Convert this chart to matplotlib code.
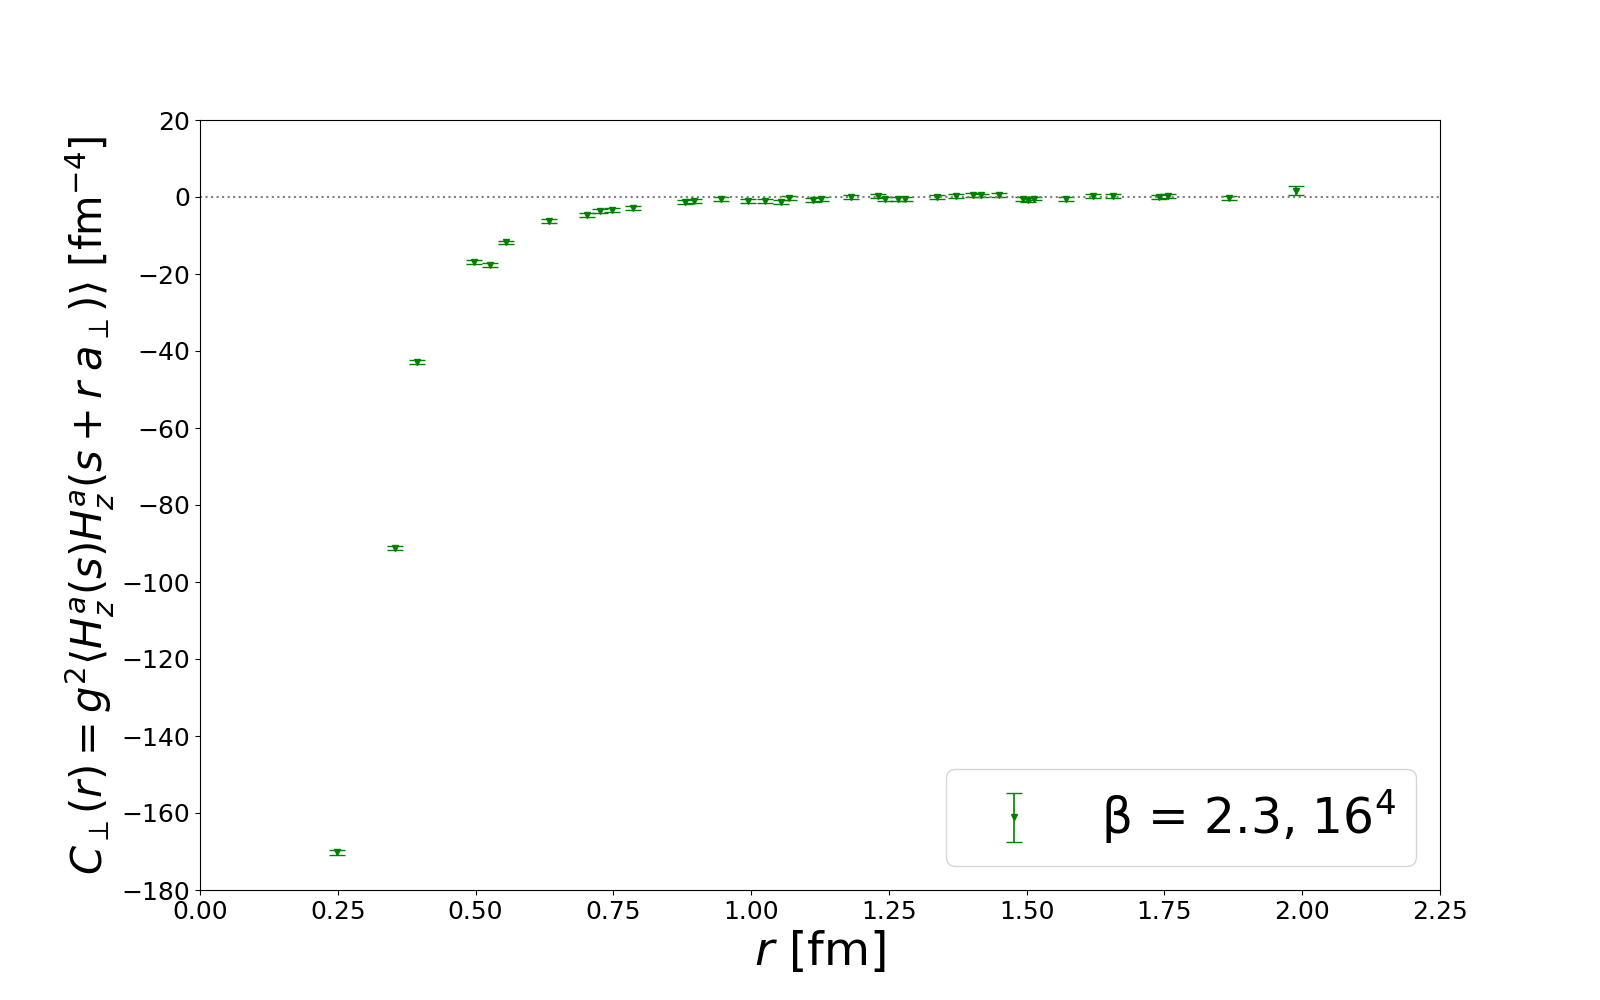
import numpy as np
import matplotlib
matplotlib.use("Agg")
import matplotlib.pyplot as plt

# transverse correlator, beta = 2.3, 16^4 lattice
r_fm = [0.249, 0.353, 0.394, 0.497, 0.527, 0.556, 0.634, 0.703, 0.725, 0.747,
        0.786, 0.880, 0.897, 0.946, 0.995, 1.026, 1.055, 1.069, 1.113, 1.126,
        1.181, 1.231, 1.243, 1.267, 1.279, 1.338, 1.372, 1.403, 1.418, 1.449,
        1.494, 1.503, 1.513, 1.572, 1.621, 1.657, 1.740, 1.757, 1.868, 1.989]
c_perp = [-170.2, -91.2, -42.8, -16.9, -17.6, -11.8, -6.2, -4.75, -3.6, -3.3,
          -2.85, -1.3, -1.0, -0.5, -1.1, -1.0, -1.4, -0.2, -0.85, -0.6,
          0.0, 0.35, -0.6, -0.6, -0.6, 0.0, 0.3, 0.45, 0.4, 0.45,
          -0.6, -0.7, -0.4, -0.6, 0.3, 0.3, 0.0, 0.3, -0.35, 1.6]
c_err = [0.6, 0.6, 0.5, 0.5, 0.5, 0.5, 0.5, 0.5, 0.5, 0.5,
         0.5, 0.5, 0.5, 0.5, 0.5, 0.5, 0.5, 0.5, 0.5, 0.5,
         0.5, 0.5, 0.5, 0.5, 0.5, 0.5, 0.5, 0.5, 0.5, 0.5,
         0.5, 0.5, 0.5, 0.5, 0.5, 0.5, 0.5, 0.5, 0.5, 1.2]

fig, ax = plt.subplots(figsize=(16, 10), dpi=100)

ax.errorbar(r_fm, c_perp, yerr=c_err, fmt='v', color='green', markersize=5,
            capsize=6, elinewidth=1.2, label=r'β = 2.3, 16$^4$')
ax.axhline(0, color='gray', linestyle=':', linewidth=1.5)

ax.set_xlim(0, 2.25)
ax.set_ylim(-180, 20)
ax.set_xticks(np.arange(0, 2.26, 0.25))
ax.set_yticks(np.arange(-180, 21, 20))
ax.tick_params(labelsize=18)

ax.set_xlabel(r'$r$ [fm]', fontsize=34)
ax.set_ylabel(r'$C_\perp(r) = g^2 \langle H_z^a(s) H_z^a(s + r\; a_\perp)\rangle$ [fm$^{-4}$]',
              fontsize=30)

ax.legend(loc='lower right', fontsize=35)

fig.savefig("out.png", dpi=100)
